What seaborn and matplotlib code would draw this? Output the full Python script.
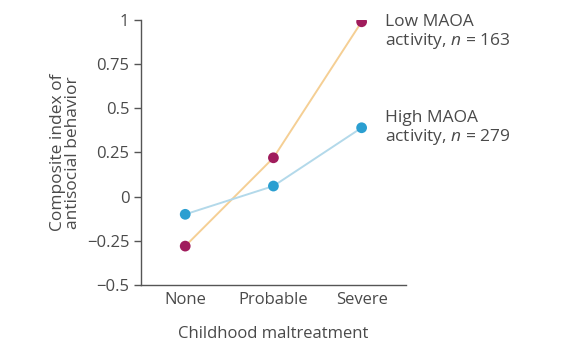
import numpy as np
import pandas as pd
import seaborn as sns
import matplotlib
matplotlib.use('Agg')
import matplotlib.pyplot as plt

# data
categories = ['None', 'Probable', 'Severe']
low_maoa = [-0.28, 0.22, 0.99]
high_maoa = [-0.10, 0.06, 0.39]
group_names = ['Low MAOA activity, n = 163', 'High MAOA activity, n = 279']
y_ticks = [-0.5, -0.25, 0, 0.25, 0.5, 0.75, 1]
y_tick_labels = ['\u22120.5', '\u22120.25', '0', '0.25', '0.5', '0.75', '1']

df = pd.DataFrame({
    'x': list(range(len(categories))) * 2,
    'value': low_maoa + high_maoa,
    'group': [group_names[0]] * 3 + [group_names[1]] * 3,
})

sns.set_style('white')
plt.rcParams['font.family'] = ['Open Sans', 'DejaVu Sans']
plt.rcParams['mathtext.fontset'] = 'custom'
plt.rcParams['mathtext.it'] = 'Open Sans:italic'
plt.rcParams['mathtext.rm'] = 'Open Sans'
text_col = '#4a4a4a'

fig = plt.figure(figsize=(5.88, 3.54), dpi=100)
ax = fig.add_axes([0.24, 0.195, 0.45, 0.7485])

line_pal = {group_names[0]: '#f5cf94', group_names[1]: '#b3d9ea'}
dot_pal = {group_names[0]: '#a01c5c', group_names[1]: '#2b9fd1'}

sns.lineplot(data=df, x='x', y='value', hue='group', palette=line_pal,
             linewidth=1.4, legend=False, ax=ax)
sns.scatterplot(data=df, x='x', y='value', hue='group', palette=dot_pal,
                s=60, edgecolor='none', legend=False, ax=ax, zorder=3)

ax.set_xlim(-0.5, 2.5)
ax.set_ylim(-0.5, 1)
ax.set_yticks(y_ticks)
ax.set_yticklabels(y_tick_labels)
ax.set_xticks([0, 1, 2])
ax.set_xticklabels(categories)
ax.set_xticks([-0.5, 0.5, 1.5, 2.5], minor=True)
ax.tick_params(axis='x', which='major', length=0, pad=5, labelsize=12, colors=text_col)
ax.tick_params(axis='x', which='minor', length=4, width=1, color='#555555', direction='in')
ax.tick_params(axis='y', length=5, width=1, color='#555555', labelsize=12, colors=text_col, left=True)

sns.despine(ax=ax)
for side in ['left', 'bottom']:
    ax.spines[side].set_color('#555555')
    ax.spines[side].set_linewidth(1)

ax.set_xlabel('Childhood maltreatment', fontsize=12, color=text_col, labelpad=13)
ax.set_ylabel('Composite index of\nantisocial behavior', fontsize=12.5, color=text_col,
              labelpad=4, linespacing=0.9)

ax.text(2.26, 0.93, 'Low MAOA\nactivity, $n$ = 163', fontsize=12.5, color=text_col,
        va='center', ha='left', clip_on=False, linespacing=1.05)
ax.text(2.26, 0.385, 'High MAOA\nactivity, $n$ = 279', fontsize=12.5, color=text_col,
        va='center', ha='left', clip_on=False, linespacing=1.05)

fig.savefig('out.png', dpi=100)
